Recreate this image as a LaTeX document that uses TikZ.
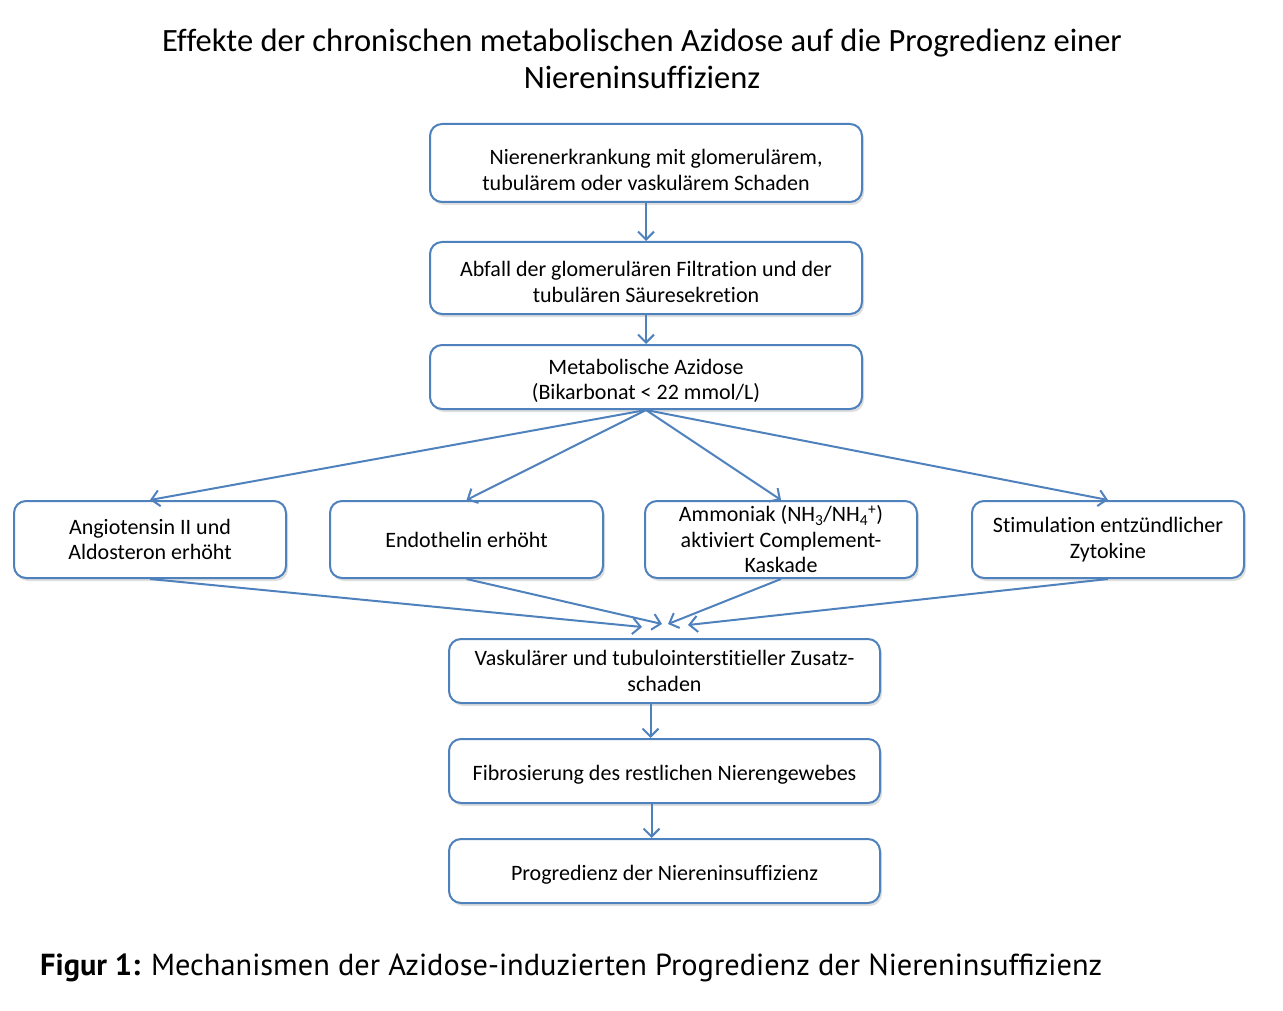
\documentclass[tikz,border=0pt]{standalone}
\usepackage{fontspec}
\setmainfont{Carlito}[Ligatures=NoCommon]
\newfontfamily\capfont{PT Sans}
\usetikzlibrary{arrows.meta,shadows}
\definecolor{boxblue}{HTML}{4F81BD}
\begin{document}
\begin{tikzpicture}[x=1pt,y=-1pt,
  fbox/.style={draw=boxblue, line width=2pt, rounded corners=12pt, fill=white,
    align=center, inner sep=0pt, font=\fontsize{22}{25.5}\selectfont,
    drop shadow={shadow xshift=2pt, shadow yshift=-3pt, opacity=0.25}},
  lowtext/.style={execute at begin node={\rule{0pt}{#1}}},
  arr/.style={draw=boxblue, line width=2pt, -{Straight Barb[length=8pt,width=16pt,line width=2pt]}}]
\useasboundingbox (0,0) rectangle (1283,1011);

\node[font=\fontsize{32.5}{37}\selectfont, align=center] (title) at (642,59)
  {Effekte der chronischen metabolischen Azidose auf die Progredienz einer\\Niereninsuffizienz};

\node[fbox, lowtext=55pt, minimum width=432pt, minimum height=78pt] (b1) at (646,163)
  {\hspace*{20pt}Nierenerkrankung mit glomerulärem,\\tubulärem oder vaskulärem Schaden};
\node[fbox, lowtext=49pt, minimum width=432pt, minimum height=72pt] (b2) at (646,278)
  {Abfall der glomerulären Filtration und der\\tubulären Säuresekretion};
\node[fbox, lowtext=49pt, minimum width=432pt, minimum height=64pt] (b3) at (646,377)
  {Metabolische Azidose\\(Bikarbonat < 22 mmol/L)};

\node[fbox, minimum width=272pt, minimum height=77pt] (a) at (150,539.5)
  {Angiotensin II und\\Aldosteron erhöht};
\node[fbox, minimum width=273pt, minimum height=77pt] (b) at (466.5,539.5)
  {Endothelin erhöht};
\node[fbox, minimum width=272pt, minimum height=77pt] (c) at (781,539.5)
  {Ammoniak (NH\textsubscript{3}/NH\textsubscript{4}\textsuperscript{+})\\aktiviert Complement-\\Kaskade};
\node[fbox, minimum width=272pt, minimum height=77pt] (d) at (1108,539.5)
  {Stimulation entzündlicher\\Zytokine};

\node[fbox, minimum width=431pt, minimum height=64pt] (b5) at (664.5,671)
  {Vaskulärer und tubulointerstitieller Zusatz-\\schaden};
\node[fbox, lowtext=22pt, minimum width=431pt, minimum height=64pt] (b6) at (664.5,771)
  {Fibrosierung des restlichen Nierengewebes};
\node[fbox, lowtext=22pt, minimum width=431pt, minimum height=64pt] (b7) at (664.5,871)
  {Progredienz der Niereninsuffizienz};

\node[anchor=west, inner sep=0pt, font=\capfont\fontsize{30.4}{34}\selectfont] (cap) at (40,968)
  {\textbf{Figur 1:} Mechanismen der Azidose-induzierten Progredienz der Niereninsuffizienz};

\coordinate (ea) at (642,627);
\coordinate (eb) at (662,624);
\coordinate (ec) at (668,624);
\coordinate (ed) at (688,625);

\draw[arr] (b1.south) -- (b2.north);
\draw[arr] (b2.south) -- (b3.north);
\draw[arr] (b3.south) -- (a.north);
\draw[arr] (b3.south) -- (b.north);
\draw[arr] (b3.south) -- (c.north);
\draw[arr] (b3.south) -- (d.north);
\draw[arr] (a.south) -- (ea);
\draw[arr] (b.south) -- (eb);
\draw[arr] (c.south) -- (ec);
\draw[arr] (d.south) -- (ed);
\draw[arr] ([xshift=-14pt]b5.south) -- ([xshift=-14pt]b6.north);
\draw[arr] ([xshift=-13pt]b6.south) -- ([xshift=-13pt]b7.north);
\end{tikzpicture}
\end{document}
